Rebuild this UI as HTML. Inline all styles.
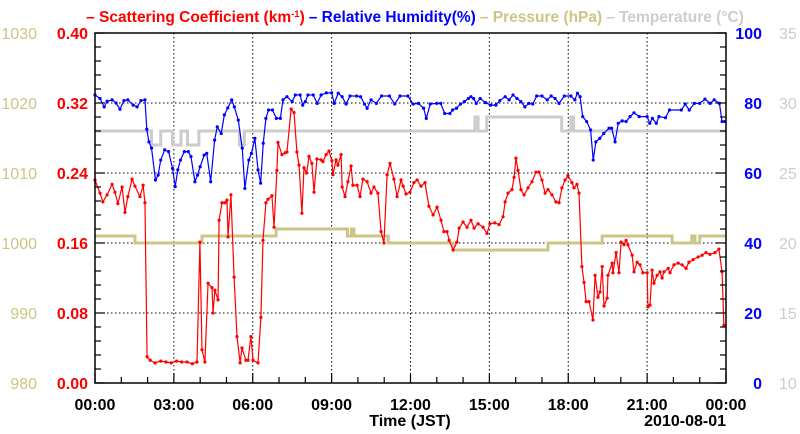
<!DOCTYPE html>
<html><head><meta charset="utf-8">
<style>
html,body{margin:0;padding:0;background:#fff;}
svg{display:block;font-family:"Liberation Sans",Arial,sans-serif;font-weight:bold;}
</style></head>
<body>
<svg id="chart" width="800" height="434" viewBox="0 0 800 434" xmlns="http://www.w3.org/2000/svg">
<text x="415" y="22" text-anchor="middle" font-size="15.5"><tspan fill="#ff0000">– Scattering Coefficient (km<tspan baseline-shift="super" font-size="9.5">-1</tspan>)</tspan><tspan fill="#0000ff" dx="4">– Relative Humidity(%)</tspan><tspan fill="#cdc585" dx="4">– Pressure (hPa)</tspan><tspan fill="#cccccc" dx="4">– Temperature (°C)</tspan></text>
<g id="grid"></g>
<g id="series"></g>
<g id="axes"></g>
</svg>
<script>
// ---- data ----
const xTickLabels = ["00:00","03:00","06:00","09:00","12:00","15:00","18:00","21:00","00:00"];
const scatTicks = ["0.00","0.08","0.16","0.24","0.32","0.40"];
const rhTicks = ["0","20","40","60","80","100"];
const presTicks = ["980","990","1000","1010","1020","1030"];
const tempTicks = ["10","15","20","25","30","35"];

const scatHours = [0,0.19,0.3,0.46,0.65,0.76,0.87,1.03,1.14,1.25,1.41,1.52,1.71,1.83,1.9,1.98,2.1,2.28,2.5,2.7,2.9,3.1,3.3,3.5,3.7,3.88,3.99,4.07,4.18,4.3,4.45,4.49,4.56,4.68,4.72,4.83,4.94,5.02,5.06,5.17,5.29,5.4,5.52,5.59,5.74,5.82,5.93,6.01,6.2,6.31,6.39,6.5,6.58,6.73,6.81,6.92,6.96,7.11,7.23,7.3,7.46,7.57,7.68,7.76,7.87,7.95,8.05,8.14,8.25,8.33,8.44,8.6,8.67,8.79,8.9,9.01,9.05,9.17,9.24,9.36,9.4,9.51,9.62,9.74,9.81,9.97,10.08,10.19,10.35,10.5,10.61,10.76,10.88,10.99,11.11,11.22,11.37,11.49,11.64,11.72,11.83,11.98,12.13,12.25,12.4,12.55,12.7,12.86,13.01,13.16,13.27,13.39,13.47,13.62,13.77,13.85,14,14.15,14.3,14.42,14.57,14.76,14.91,15.02,15.21,15.37,15.52,15.6,15.71,15.86,15.94,16.01,16.09,16.2,16.32,16.47,16.62,16.77,16.89,17.0,17.12,17.23,17.38,17.53,17.65,17.76,17.88,17.99,18.14,18.22,18.33,18.41,18.52,18.6,18.68,18.79,18.94,19.02,19.13,19.21,19.29,19.36,19.48,19.51,19.67,19.7,19.82,19.93,20.01,20.12,20.2,20.27,20.43,20.5,20.62,20.73,20.84,21.0,21.03,21.11,21.19,21.26,21.38,21.49,21.57,21.64,21.8,21.87,22.02,22.18,22.33,22.48,22.59,22.75,22.94,23.09,23.24,23.39,23.58,23.73,23.85,23.92];
const scatValues = [0.232,0.217,0.207,0.215,0.227,0.218,0.205,0.224,0.195,0.213,0.233,0.225,0.213,0.226,0.206,0.030,0.026,0.023,0.025,0.024,0.023,0.025,0.024,0.024,0.022,0.024,0.161,0.038,0.024,0.114,0.109,0.080,0.106,0.095,0.186,0.206,0.206,0.209,0.167,0.215,0.121,0.053,0.023,0.040,0.026,0.026,0.053,0.026,0.023,0.075,0.163,0.206,0.210,0.214,0.178,0.243,0.275,0.261,0.263,0.264,0.313,0.309,0.264,0.249,0.194,0.246,0.240,0.259,0.251,0.218,0.256,0.255,0.253,0.261,0.265,0.254,0.238,0.255,0.249,0.261,0.224,0.213,0.230,0.248,0.226,0.226,0.213,0.233,0.230,0.217,0.224,0.217,0.173,0.160,0.238,0.251,0.233,0.213,0.232,0.225,0.216,0.218,0.229,0.232,0.225,0.229,0.202,0.192,0.201,0.186,0.173,0.173,0.163,0.152,0.161,0.177,0.184,0.178,0.186,0.177,0.182,0.178,0.171,0.182,0.183,0.181,0.190,0.207,0.217,0.221,0.235,0.257,0.243,0.221,0.215,0.223,0.230,0.241,0.241,0.232,0.217,0.221,0.215,0.207,0.206,0.223,0.232,0.237,0.229,0.223,0.227,0.217,0.133,0.115,0.093,0.093,0.072,0.123,0.098,0.104,0.133,0.088,0.097,0.123,0.137,0.126,0.149,0.126,0.161,0.158,0.163,0.158,0.146,0.127,0.138,0.135,0.126,0.126,0.087,0.089,0.129,0.114,0.123,0.127,0.120,0.127,0.131,0.126,0.135,0.137,0.135,0.131,0.138,0.141,0.144,0.146,0.149,0.147,0.149,0.153,0.127,0.066];

const rhHours = [0,0.19,0.35,0.46,0.65,0.8,0.95,1.1,1.25,1.45,1.6,1.75,1.9,1.97,2.05,2.15,2.3,2.4,2.5,2.65,2.8,2.95,3.05,3.15,3.25,3.4,3.55,3.65,3.8,3.9,4.0,4.15,4.25,4.4,4.55,4.65,4.8,4.92,5.05,5.2,5.3,5.45,5.6,5.7,5.85,5.95,6.08,6.2,6.3,6.4,6.5,6.6,6.75,6.9,7.05,7.15,7.3,7.5,7.62,7.8,7.9,8.0,8.1,8.3,8.45,8.6,8.8,9.0,9.1,9.25,9.4,9.55,9.7,9.95,10.1,10.25,10.35,10.5,10.7,10.9,11.2,11.4,11.6,11.9,12.1,12.3,12.5,12.6,12.75,13.0,13.15,13.3,13.5,13.6,13.75,13.9,14.05,14.2,14.3,14.4,14.5,14.65,14.85,15.05,15.25,15.4,15.6,15.75,15.9,16.05,16.2,16.35,16.5,16.65,16.8,17.0,17.2,17.35,17.5,17.65,17.85,18.1,18.25,18.35,18.45,18.55,18.7,18.85,18.95,19.05,19.2,19.35,19.55,19.65,19.78,19.9,20.05,20.2,20.35,20.5,20.7,21.0,21.1,21.2,21.35,21.45,21.7,21.85,22.3,22.45,22.6,22.8,23.0,23.2,23.4,23.55,23.75,23.85,23.95];
const rhValues = [82.3,81.3,78.9,80.5,80.9,80.0,78.2,80.7,80.9,79.4,78.9,80.7,80.9,72.5,68.9,67.1,58.0,59.4,63.7,66.6,66.1,61.3,56.1,60.9,63.7,66.1,66.1,64.7,57.5,59.4,61.8,65.1,65.6,57.5,69.4,73.2,71.3,76.6,78.6,80.9,78.9,75.1,67.1,55.6,63.7,65.6,69.9,60.9,57.1,68.5,75.6,78.0,78.0,75.6,75.6,80.9,81.8,80.4,82.3,82.3,79.4,80.4,82.3,82.3,79.9,82.3,82.9,82.9,79.9,82.8,81.8,79.7,82.0,82.0,81.8,79.7,78.5,80.9,79.9,82.0,82.0,79.7,82.0,82.0,79.7,79.9,78.5,75.6,79.7,79.9,79.9,77.0,77.0,78.0,78.5,79.7,80.4,81.3,81.8,81.3,79.9,81.3,80.1,79.4,79.4,80.7,81.8,80.9,82.3,81.3,80.4,78.9,79.9,79.7,82.0,82.0,80.9,82.0,81.3,79.9,82.0,82.0,80.9,82.8,81.8,76.1,74.7,72.3,63.7,68.9,69.9,71.3,72.8,72.8,68.9,74.2,74.9,74.7,76.1,77.2,76.1,76.1,74.2,75.6,74.2,76.1,75.8,78.0,78.0,79.7,78.0,79.9,79.9,81.1,79.9,80.9,79.9,74.7,74.7];

const presHours = [0,1.52,4.07,6.89,9.6,9.75,9.85,11.15,13.62,17.23,19.29,21.95,22.7,22.82,22.95,23.0,24];
const presValues = [1001,1000,1001,1002,1001,1002,1001,1000,999,1000,1001,1000,1001,1000,1000,1001,1001];

const tempHours = [0,2.15,2.5,2.95,3.27,3.52,3.95,5.49,5.68,14.45,14.57,14.9,17.75,18.1,18.2,24];
const tempValues = [28,27,28,27,28,27,28,27,28,29,28,29,28,29,28,28];

// ---- geometry ----
const L=95, R=726, T=33, B=383;
const xS = h => L + (h/24)*(R-L);
const yScat = v => B - (v/0.40)*(B-T);
const yRH = v => B - (v/100)*(B-T);
const yPres = v => B - ((v-980)/50)*(B-T);
const yTemp = v => B - ((v-10)/25)*(B-T);
const NS="http://www.w3.org/2000/svg";
function mk(tag, attrs, parent){const e=document.createElementNS(NS,tag);for(const k in attrs)e.setAttribute(k,attrs[k]);parent.appendChild(e);return e;}
const grid=document.getElementById('grid'), ser=document.getElementById('series'), axes=document.getElementById('axes');

for(let i=1;i<8;i++){const x=xS(i*3);
 const g=mk('line',{x1:x,y1:T,x2:x,y2:B,stroke:'#000','stroke-width':1,'stroke-dasharray':'1.5,2.5'},grid);
 
 }
for(let i=1;i<5;i++){const y=yScat(i*0.08);
 const g=mk('line',{x1:L,y1:y,x2:R,y2:y,stroke:'#000','stroke-width':1,'stroke-dasharray':'1.5,2.5'},grid);
 
 }

function stepPath(hours, vals, yf){
 let d='M'+xS(hours[0])+','+yf(vals[0]);
 for(let i=1;i<hours.length;i++){d+=' L'+xS(hours[i])+','+yf(vals[i-1])+' L'+xS(hours[i])+','+yf(vals[i]);}
 return d;}
const tp=mk('path',{d:stepPath(tempHours,tempValues,yTemp),fill:'none',stroke:'#cccccc','stroke-width':3},ser);


const pp=mk('path',{d:stepPath(presHours,presValues,yPres),fill:'none',stroke:'#cdc585','stroke-width':3},ser);



function lineSeries(hours, vals, yf, color, name){
 const pts=hours.map((h,i)=>xS(h)+','+yf(vals[i])).join(' ');
 const pl=mk('polyline',{points:pts,fill:'none',stroke:color,'stroke-width':1.2},ser);
 
 
 hours.forEach((h,i)=>{const c=mk('circle',{cx:xS(h),cy:yf(vals[i]),r:1.6,fill:color},ser);
  
  });
}
lineSeries(rhHours,rhValues,yRH,'#0000ff','humidity');
lineSeries(scatHours,scatValues,yScat,'#ff0000','scattering');

const fr=mk('rect',{x:L,y:T,width:R-L,height:B-T,fill:'none',stroke:'#000','stroke-width':1.5},axes);


for(let i=0;i<=25;i++){const y=B-i*(B-T)/25;const len=(i%5===0)?10:6;
 const t1=mk('line',{x1:L,y1:y,x2:L+len,y2:y,stroke:'#000','stroke-width':1.2},axes);
 
 
 const t2=mk('line',{x1:R,y1:y,x2:R-len,y2:y,stroke:'#000','stroke-width':1.2},axes);
 
 }
for(let i=0;i<=24;i++){const x=xS(i);const len=(i%3===0)?10:6;
 const t=mk('line',{x1:x,y1:B,x2:x,y2:B-len,stroke:'#000','stroke-width':1.2},axes);
 
 }
function txt(x,y,s,attrs,name){const e=mk('text',Object.assign({x:x,y:y,'font-size':16},attrs),axes);e.textContent=s;
 
 return e;}
for(let i=0;i<6;i++){const y=B-i*(B-T)/5+6;
 txt(88,y,scatTicks[i],{fill:'#ff0000','text-anchor':'end'},'scattering-tick-label');
 txt(37,y,presTicks[i],{fill:'#cdc585','text-anchor':'end','font-weight':'normal'},'pressure-tick-label');
 txt(762,y,rhTicks[i],{fill:'#0000ff','text-anchor':'end'},'humidity-tick-label');
 txt(779,y,tempTicks[i],{fill:'#cccccc','text-anchor':'start','font-weight':'normal'},'temperature-tick-label');}
xTickLabels.forEach((s,i)=>txt(xS(i*3),410,s,{fill:'#000','text-anchor':'middle'},'x-tick-label'));
txt(410,426,'Time (JST)',{fill:'#000','text-anchor':'middle'},'x-axis-title');
txt(726,426,'2010-08-01',{fill:'#000','text-anchor':'end'},'date-label');
</script>
</body></html>
